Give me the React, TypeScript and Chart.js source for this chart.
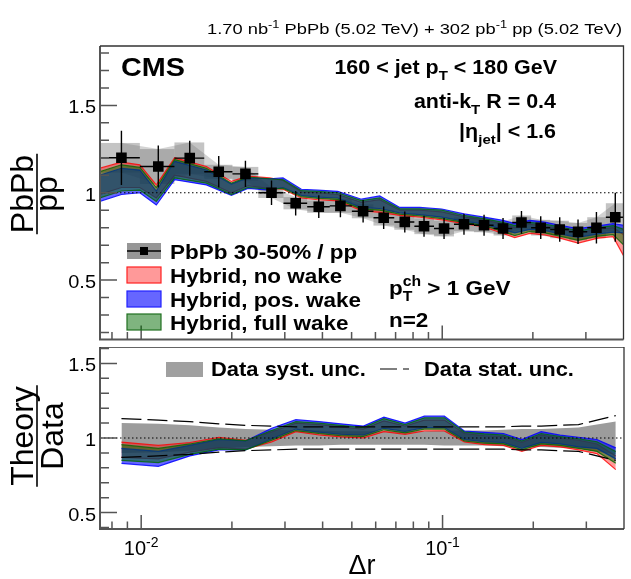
import React, { useEffect, useRef } from "react"
import Chart from "chart.js/auto"

// Δr bin centres and bin edges
const deltaR = [
  0.0086, 0.0114, 0.0145, 0.0181, 0.0222, 0.0271, 0.0326, 0.0389, 0.0459, 0.0546, 0.0639, 0.0751,
  0.087, 0.1014, 0.1181, 0.1377, 0.1592, 0.1833, 0.2124, 0.2456, 0.2825, 0.3252, 0.3756,
]
const binEdges = [
  0.0073, 0.0099, 0.0129, 0.0162, 0.0201, 0.0245, 0.0297, 0.0356, 0.0423, 0.0501, 0.0591, 0.0693,
  0.0808, 0.0939, 0.1094, 0.1275, 0.1481, 0.1708, 0.1973, 0.2284, 0.2634, 0.3031, 0.3495, 0.4,
]

// PbPb 30-50% / pp
const ratioValues = [
  1.2, 1.15, 1.198, 1.12, 1.108, 1.0, 0.94, 0.92, 0.925, 0.894, 0.857, 0.833, 0.808, 0.795, 0.82,
  0.814, 0.795, 0.83, 0.8, 0.79, 0.777, 0.8, 0.86,
]
const statErr = [
  0.155, 0.12, 0.1, 0.09, 0.075, 0.07, 0.07, 0.065, 0.065, 0.065, 0.065, 0.06, 0.06, 0.06, 0.06, 0.06,
  0.06, 0.065, 0.065, 0.07, 0.07, 0.09, 0.14,
]
const systErr = [
  0.085, 0.1, 0.09, 0.04, 0.04, 0.03, 0.035, 0.035, 0.04, 0.04, 0.045, 0.045, 0.045, 0.045, 0.04, 0.04,
  0.04, 0.04, 0.045, 0.05, 0.05, 0.06, 0.08,
]

// Hybrid model bands in the upper panel (own Δr grid)
const theoryR = [
  0.00728, 0.0086, 0.0099, 0.01123, 0.01292, 0.01647, 0.01994, 0.02263, 0.02673, 0.02959, 0.03405,
  0.03859, 0.04496, 0.05389, 0.06199, 0.07225, 0.08418, 0.09962, 0.1181, 0.1377, 0.1592, 0.1741,
  0.1953, 0.219, 0.2457, 0.2826, 0.3294, 0.3694, 0.401,
]
const noWakeLow = [
  0.99, 1.03, 1.03, 0.97, 1.1, 1.065, 1.0, 1.04, 1.025, 1.02, 0.97, 0.96, 0.954, 0.898, 0.888, 0.87,
  0.86, 0.845, 0.823, 0.804, 0.767, 0.743, 0.767, 0.758, 0.74, 0.712, 0.74, 0.749, 0.637,
]
const noWakeHigh = [
  1.14, 1.175, 1.16, 1.045, 1.2, 1.15, 1.065, 1.095, 1.085, 1.07, 1.005, 1.0, 0.99, 0.945, 0.96, 0.9,
  0.9, 0.89, 0.862, 0.845, 0.82, 0.8, 0.82, 0.81, 0.795, 0.77, 0.79, 0.8, 0.76,
]
const posWakeLow = [
  0.95, 0.99, 1.0, 0.93, 1.075, 1.045, 0.985, 1.025, 1.015, 1.03, 0.985, 0.975, 0.97, 0.915, 0.91,
  0.885, 0.875, 0.86, 0.838, 0.82, 0.79, 0.77, 0.79, 0.785, 0.765, 0.745, 0.765, 0.775, 0.77,
]
const posWakeHigh = [
  1.1, 1.14, 1.13, 1.01, 1.18, 1.13, 1.05, 1.085, 1.08, 1.085, 1.02, 1.015, 1.008, 0.963, 0.982,
  0.916, 0.916, 0.907, 0.879, 0.86, 0.842, 0.823, 0.842, 0.832, 0.814, 0.795, 0.81, 0.823, 0.814,
]
const fullWakeLow = [
  0.97, 1.01, 1.015, 0.95, 1.085, 1.055, 0.99, 1.03, 1.02, 1.025, 0.978, 0.968, 0.962, 0.906, 0.9,
  0.877, 0.868, 0.852, 0.83, 0.812, 0.778, 0.755, 0.778, 0.77, 0.752, 0.728, 0.752, 0.76, 0.7,
]
const fullWakeHigh = [
  1.12, 1.16, 1.145, 1.03, 1.19, 1.14, 1.055, 1.09, 1.08, 1.075, 1.012, 1.008, 1.0, 0.955, 0.97,
  0.908, 0.908, 0.9, 0.87, 0.852, 0.83, 0.812, 0.83, 0.82, 0.805, 0.782, 0.8, 0.812, 0.79,
]

// Theory / Data, lower panel (at the data Δr)
const noWakeRatioLow = [
  0.87, 0.86, 0.905, 0.935, 0.925, 0.973, 1.042, 1.02, 1.007, 1.0, 1.042, 1.025, 1.047, 1.047, 0.973,
  0.955, 0.95, 0.91, 0.95, 0.94, 0.92, 0.895, 0.788,
]
const noWakeRatioHigh = [
  0.973, 0.95, 0.97, 1.005, 0.985, 1.04, 1.1, 1.09, 1.075, 1.06, 1.115, 1.08, 1.12, 1.12, 1.03, 1.015,
  1.01, 0.97, 1.02, 1.0, 0.985, 0.96, 0.88,
]
const posWakeRatioLow = [
  0.83, 0.81, 0.88, 0.92, 0.92, 0.995, 1.06, 1.04, 1.025, 1.02, 1.065, 1.045, 1.07, 1.07, 0.99, 0.975,
  0.97, 0.93, 0.97, 0.96, 0.94, 0.93, 0.86,
]
const posWakeRatioHigh = [
  0.93, 0.91, 0.95, 0.99, 0.98, 1.065, 1.123, 1.11, 1.095, 1.08, 1.14, 1.1, 1.146, 1.146, 1.047, 1.038,
  1.03, 0.99, 1.042, 1.019, 1.005, 0.99, 0.934,
]
const fullWakeRatioLow = [
  0.85, 0.835, 0.89, 0.925, 0.92, 0.985, 1.05, 1.03, 1.015, 1.01, 1.055, 1.035, 1.06, 1.06, 0.98,
  0.965, 0.96, 0.92, 0.96, 0.95, 0.93, 0.91, 0.83,
]
const fullWakeRatioHigh = [
  0.955, 0.93, 0.96, 0.995, 0.982, 1.05, 1.11, 1.1, 1.085, 1.07, 1.13, 1.09, 1.135, 1.135, 1.04,
  1.028, 1.02, 0.98, 1.03, 1.01, 0.995, 0.975, 0.91,
]
const systRatio = [
  0.1, 0.095, 0.085, 0.07, 0.06, 0.055, 0.05, 0.05, 0.045, 0.045, 0.045, 0.045, 0.045, 0.05, 0.05, 0.05,
  0.055, 0.06, 0.06, 0.065, 0.07, 0.09, 0.11,
]
const statRatio = [
  0.13, 0.12, 0.11, 0.095, 0.085, 0.08, 0.075, 0.075, 0.075, 0.075, 0.075, 0.075, 0.075, 0.075, 0.075,
  0.075, 0.075, 0.08, 0.08, 0.085, 0.09, 0.12, 0.15,
]

const yTickValues = [0.5, 1, 1.5]
const yTickLabels = ["0.5", "1", "1.5"]
const xTickValues = [0.01, 0.1]
const xTickExponents = ["-2", "-1"]

const FONT = '"Liberation Sans", Arial, Helvetica, sans-serif'
const RED_FILL = "rgba(255,0,0,0.4)"
const BLUE_FILL = "rgba(0,0,255,0.6)"
const GREEN_FILL = "rgba(0,105,0,0.5)"

type Part = { t: string; s?: "sub" | "sup"; hold?: boolean }

function richText(
  ctx: CanvasRenderingContext2D,
  parts: Part[],
  x: number,
  y: number,
  size: number,
  opt: { bold?: boolean; align?: "left" | "right" | "center"; sx?: number } = {}
) {
  const font = (p: Part) => `${opt.bold ? "bold " : ""}${p.s ? size * 0.7 : size}px ${FONT}`
  let width = 0
  for (const p of parts) {
    ctx.font = font(p)
    if (!p.hold) width += ctx.measureText(p.t).width
  }
  ctx.save()
  ctx.translate(x, y)
  ctx.scale(opt.sx ?? 1, 1)
  let cx = opt.align === "right" ? -width : opt.align === "center" ? -width / 2 : 0
  ctx.textAlign = "left"
  ctx.textBaseline = "alphabetic"
  ctx.fillStyle = "#000"
  for (const p of parts) {
    ctx.font = font(p)
    const dy = p.s === "sub" ? size * 0.3 : p.s === "sup" ? -size * 0.42 : 0
    ctx.fillText(p.t, cx, dy)
    if (!p.hold) cx += ctx.measureText(p.t).width
  }
  ctx.restore()
}

function fraction(
  ctx: CanvasRenderingContext2D,
  cx: number,
  cy: number,
  num: string,
  den: string,
  denBase: number
) {
  ctx.save()
  ctx.translate(cx, cy)
  ctx.rotate(-Math.PI / 2)
  ctx.font = `32px ${FONT}`
  ctx.fillStyle = "#000"
  ctx.textAlign = "center"
  ctx.textBaseline = "alphabetic"
  const w = Math.max(ctx.measureText(num).width, ctx.measureText(den).width)
  ctx.fillText(num, 0, -4)
  ctx.fillText(den, 0, denBase)
  ctx.strokeStyle = "#000"
  ctx.lineWidth = 1.6
  ctx.beginPath()
  ctx.moveTo(-w / 2 - 1, 0)
  ctx.lineTo(w / 2 + 1, 0)
  ctx.stroke()
  ctx.restore()
}

function drawAxes(chart: Chart, yFrom: number, yTo: number, xLabels: boolean) {
  const { ctx, chartArea: a } = chart
  const xs = chart.scales.x
  const ys = chart.scales.y
  ctx.save()
  ctx.strokeStyle = "#555"
  ctx.lineWidth = 1.5
  ctx.beginPath()
  for (let k = yFrom; k <= yTo; k++) {
    const py = ys.getPixelForValue(k / 10)
    const len = k % 5 === 0 ? 17 : 9
    ctx.moveTo(a.left, py)
    ctx.lineTo(a.left + len, py)
  }
  for (const decade of [0.001, 0.01, 0.1]) {
    for (let m = 1; m <= 9; m++) {
      const v = decade * m
      if (v < xs.min || v > xs.max - 1e-6) continue
      const px = xs.getPixelForValue(v)
      const len = m === 1 ? 14 : 7.5
      ctx.moveTo(px, a.bottom)
      ctx.lineTo(px, a.bottom - len)
    }
  }
  ctx.stroke()

  ctx.lineWidth = 2
  ctx.beginPath()
  ctx.moveTo(a.left, a.top)
  ctx.lineTo(a.left, a.bottom)
  ctx.lineTo(a.right, a.bottom)
  ctx.stroke()
  ctx.strokeStyle = "#333"
  ctx.lineWidth = 1.3
  ctx.beginPath()
  ctx.moveTo(a.left, a.top)
  ctx.lineTo(a.right, a.top)
  ctx.lineTo(a.right, a.bottom)
  ctx.stroke()

  yTickValues.forEach((v, i) => {
    richText(ctx, [{ t: yTickLabels[i] }], a.left - 4, ys.getPixelForValue(v) + 8, 19, {
      align: "right",
      sx: 1.05,
    })
  })
  if (xLabels) {
    xTickValues.forEach((v, i) => {
      richText(
        ctx,
        [{ t: "10" }, { t: xTickExponents[i], s: "sup" }],
        xs.getPixelForValue(v),
        a.bottom + 26,
        20,
        { align: "center" }
      )
    })
  }
  ctx.restore()
}

function dottedOne(chart: Chart) {
  const { ctx, chartArea: a } = chart
  const py = chart.scales.y.getPixelForValue(1)
  ctx.save()
  ctx.strokeStyle = "#000"
  ctx.lineWidth = 1
  ctx.setLineDash([1.5, 2.5])
  ctx.beginPath()
  ctx.moveTo(a.left, py)
  ctx.lineTo(a.right, py)
  ctx.stroke()
  ctx.restore()
}

const pts = (xs: number[], ys: number[]) => xs.map((x, i) => ({ x, y: ys[i] }))

function band(
  label: string,
  xs: number[],
  low: number[],
  high: number[],
  fill: string,
  line: string,
  width: number,
  order: number
) {
  return [
    {
      label: label + " high",
      data: pts(xs, high),
      fill: "+1",
      backgroundColor: fill,
      borderColor: line,
      borderWidth: width,
      pointRadius: 0,
      order,
    },
    {
      label: label + " low",
      data: pts(xs, low),
      fill: false,
      borderColor: line,
      borderWidth: width,
      pointRadius: 0,
      order,
    },
  ]
}

const topPlugin = {
  id: "topPanel",
  beforeDatasetsDraw(chart: Chart) {
    const { ctx } = chart
    const xs = chart.scales.x
    const ys = chart.scales.y
    ctx.save()
    ctx.fillStyle = "rgba(100,100,100,0.38)"
    ratioValues.forEach((v, i) => {
      const x0 = xs.getPixelForValue(binEdges[i])
      const x1 = xs.getPixelForValue(binEdges[i + 1])
      const y0 = ys.getPixelForValue(v + systErr[i])
      const y1 = ys.getPixelForValue(v - systErr[i])
      ctx.fillRect(x0, y0, x1 - x0, y1 - y0)
    })
    ctx.restore()
  },
  beforeDatasetDraw(chart: Chart, args: { index: number }) {
    if (chart.data.datasets[args.index].label !== "PbPb") return
    dottedOne(chart)
    const { ctx } = chart
    const xs = chart.scales.x
    const ys = chart.scales.y
    ctx.save()
    ctx.strokeStyle = "#000"
    ctx.lineWidth = 1.4
    ctx.beginPath()
    ratioValues.forEach((v, i) => {
      const px = xs.getPixelForValue(deltaR[i])
      const py = ys.getPixelForValue(v)
      ctx.moveTo(xs.getPixelForValue(binEdges[i]), py)
      ctx.lineTo(xs.getPixelForValue(binEdges[i + 1]), py)
      ctx.moveTo(px, ys.getPixelForValue(v + statErr[i]))
      ctx.lineTo(px, ys.getPixelForValue(v - statErr[i]))
    })
    ctx.stroke()
    ctx.restore()
  },
  afterDatasetsDraw(chart: Chart) {
    const { ctx } = chart
    drawAxes(chart, 2, 18, false)

    richText(
      ctx,
      [
        { t: "1.70 nb" },
        { t: "-1", s: "sup" },
        { t: " PbPb (5.02 TeV) + 302 pb" },
        { t: "-1", s: "sup" },
        { t: " pp (5.02 TeV)" },
      ],
      622,
      34,
      15,
      { align: "right", sx: 1.22 }
    )
    richText(ctx, [{ t: "CMS" }], 121, 76, 25, { bold: true, sx: 1.15 })
    richText(ctx, [{ t: "160 < jet p" }, { t: "T", s: "sub" }, { t: " < 180 GeV" }], 557, 74, 19.5, {
      bold: true,
      align: "right",
      sx: 1.1,
    })
    richText(ctx, [{ t: "anti-k" }, { t: "T", s: "sub" }, { t: " R = 0.4" }], 556, 108, 19.5, {
      bold: true,
      align: "right",
      sx: 1.1,
    })
    richText(ctx, [{ t: "|η" }, { t: "jet", s: "sub" }, { t: "| < 1.6" }], 556, 138, 19.5, {
      bold: true,
      align: "right",
      sx: 1.1,
    })

    // legend
    const rows = [251, 275, 299, 322]
    const texts = ["PbPb 30-50% / pp", "Hybrid, no wake", "Hybrid, pos. wake", "Hybrid, full wake"]
    ctx.save()
    ctx.fillStyle = "#969696"
    ctx.fillRect(127, rows[0] - 8, 34, 16)
    ctx.strokeStyle = "#000"
    ctx.lineWidth = 1.4
    ctx.beginPath()
    ctx.moveTo(127, rows[0])
    ctx.lineTo(161, rows[0])
    ctx.stroke()
    ctx.fillStyle = "#000"
    ctx.fillRect(140, rows[0] - 4, 8, 8)
    const fills = [RED_FILL, BLUE_FILL, GREEN_FILL]
    const lines = ["#ff2020", "#2020ff", "#207020"]
    fills.forEach((f, i) => {
      ctx.fillStyle = f
      ctx.fillRect(127, rows[i + 1] - 8, 34, 16)
      ctx.strokeStyle = lines[i]
      ctx.lineWidth = 1.2
      ctx.strokeRect(127, rows[i + 1] - 8, 34, 16)
    })
    ctx.restore()
    texts.forEach((t, i) => richText(ctx, [{ t }], 170, rows[i] + 7.5, 21, { bold: true, sx: 1.07 }))

    richText(
      ctx,
      [{ t: "p" }, { t: "T", s: "sub", hold: true }, { t: "ch", s: "sup" }, { t: " > 1 GeV" }],
      389,
      295,
      21,
      { bold: true, sx: 1.07 }
    )
    richText(ctx, [{ t: "n=2" }], 389, 327, 21, { bold: true, sx: 1.07 })

    fraction(ctx, 37, 194, "PbPb", "pp", 20)
  },
}

const bottomPlugin = {
  id: "bottomPanel",
  afterDatasetsDraw(chart: Chart) {
    const { ctx, chartArea: a } = chart
    dottedOne(chart)
    drawAxes(chart, 4, 16, true)

    ctx.save()
    ctx.fillStyle = "#a0a0a0"
    ctx.fillRect(166, 15, 37, 15)
    ctx.strokeStyle = "#000"
    ctx.lineWidth = 1.2
    ctx.setLineDash([17, 6, 6, 6])
    ctx.beginPath()
    ctx.moveTo(380, 22)
    ctx.lineTo(414, 22)
    ctx.stroke()
    ctx.restore()
    richText(ctx, [{ t: "Data syst. unc." }], 211, 29, 20.5, { bold: true, sx: 1.07 })
    richText(ctx, [{ t: "Data stat. unc." }], 424, 29, 20.5, { bold: true, sx: 1.07 })

    richText(ctx, [{ t: "Δr" }], (a.left + a.right) / 2, a.bottom + 45, 27, { align: "center" })
    fraction(ctx, 37, 89, "Theory", "Data", 26)
  },
}

export default function App() {
  const topRef = useRef<HTMLCanvasElement | null>(null)
  const bottomRef = useRef<HTMLCanvasElement | null>(null)

  useEffect(() => {
    if (!topRef.current || !bottomRef.current) return

    const xAxis = { type: "logarithmic" as const, min: 0.0073, max: 0.4, display: false }
    const common = {
      animation: false as const,
      responsive: false,
      events: [] as any[],
      elements: { point: { radius: 0 }, line: { tension: 0 } },
      plugins: { legend: { display: false }, tooltip: { enabled: false } },
    }

    const top = new Chart(topRef.current, {
      type: "line",
      data: {
        datasets: [
          {
            label: "PbPb",
            data: pts(deltaR, ratioValues),
            showLine: false,
            pointStyle: "rect",
            pointRadius: 7.5,
            pointBackgroundColor: "#000",
            pointBorderColor: "#000",
            pointBorderWidth: 0,
            order: 0,
          },
          ...band("full wake", theoryR, fullWakeLow, fullWakeHigh, GREEN_FILL, "rgba(0,105,0,0.8)", 1.2, 2),
          ...band("pos. wake", theoryR, posWakeLow, posWakeHigh, BLUE_FILL, "rgba(0,0,255,0.85)", 1.2, 3),
          ...band("no wake", theoryR, noWakeLow, noWakeHigh, RED_FILL, "rgba(255,0,0,0.8)", 1.2, 4),
          ...band(
            "syst",
            deltaR,
            ratioValues.map((v, i) => v - systErr[i]),
            ratioValues.map((v, i) => v + systErr[i]),
            "rgba(110,110,110,0.3)",
            "rgba(0,0,0,0)",
            0,
            5
          ),
        ] as any,
      },
      options: {
        ...common,
        layout: { padding: { left: 100, right: 7, top: 46, bottom: 0 } },
        scales: { x: xAxis, y: { type: "linear", min: 0.16, max: 1.84, display: false } },
      } as any,
      plugins: [topPlugin as any],
    })

    const bottom = new Chart(bottomRef.current, {
      type: "line",
      data: {
        datasets: [
          {
            label: "stat high",
            data: pts(deltaR, statRatio.map((s) => 1 + s)),
            borderColor: "#000",
            borderWidth: 1.2,
            borderDash: [20, 6],
            fill: false,
            pointRadius: 0,
            order: 0,
          },
          {
            label: "stat low",
            data: pts(deltaR, statRatio.map((s) => 1 - s)),
            borderColor: "#000",
            borderWidth: 1.2,
            borderDash: [20, 6],
            fill: false,
            pointRadius: 0,
            order: 0,
          },
          ...band("full wake", deltaR, fullWakeRatioLow, fullWakeRatioHigh, GREEN_FILL, "rgba(0,105,0,0.8)", 1.2, 2),
          ...band("pos. wake", deltaR, posWakeRatioLow, posWakeRatioHigh, BLUE_FILL, "rgba(0,0,255,0.85)", 1.2, 3),
          ...band("no wake", deltaR, noWakeRatioLow, noWakeRatioHigh, RED_FILL, "rgba(255,0,0,0.8)", 1.2, 4),
          ...band(
            "syst",
            deltaR,
            systRatio.map((s) => 1 - s),
            systRatio.map((s) => 1 + s),
            "#9c9c9c",
            "rgba(0,0,0,0)",
            0,
            5
          ),
        ] as any,
      },
      options: {
        ...common,
        layout: { padding: { left: 100, right: 7, top: 0, bottom: 50 } },
        scales: { x: xAxis, y: { type: "linear", min: 0.39, max: 1.61, display: false } },
      } as any,
      plugins: [bottomPlugin as any],
    })

    return () => {
      top.destroy()
      bottom.destroy()
    }
  }, [])

  return (
    <div style={{ position: "absolute", left: 0, top: 0, width: 631, height: 579, background: "#fff" }}>
      <canvas ref={topRef} width={631} height={347} style={{ position: "absolute", left: 0, top: 0 }} />
      <canvas
        ref={bottomRef}
        width={631}
        height={232}
        style={{ position: "absolute", left: 0, top: 347 }}
      />
    </div>
  )
}
